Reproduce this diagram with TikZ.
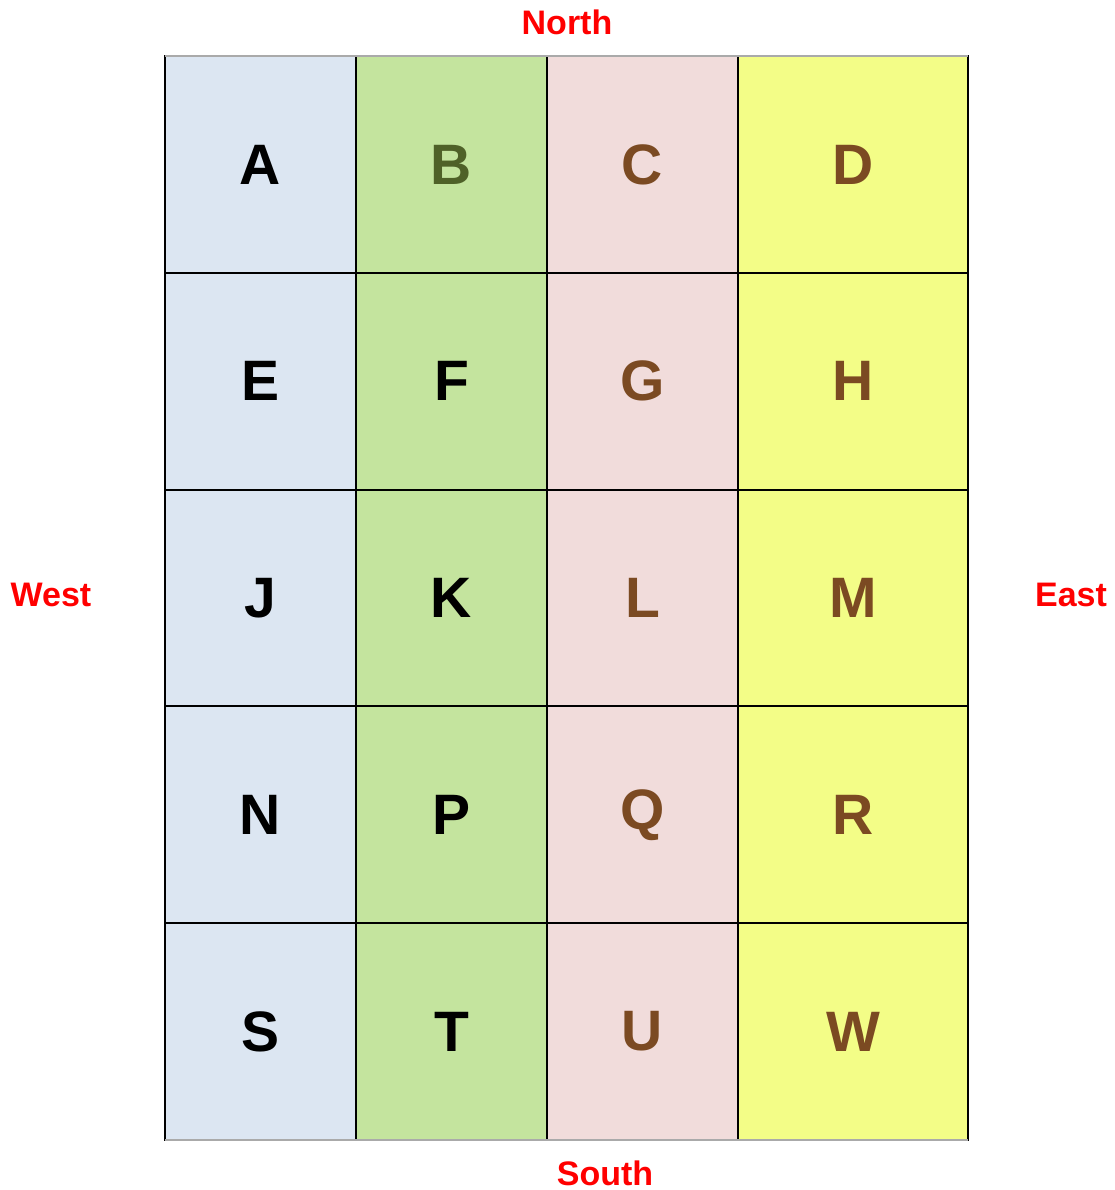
\documentclass[tikz,border=0pt]{standalone}
\usepackage{fontspec}
\setmainfont{Liberation Sans}
\usepackage{tikz}
\usetikzlibrary{positioning,calc}
\definecolor{ColBlue}{HTML}{DCE6F2}
\definecolor{ColGreen}{HTML}{C4E49E}
\definecolor{ColPink}{HTML}{F1DCDB}
\definecolor{ColYellow}{HTML}{F3FD87}
\definecolor{OliveTxt}{HTML}{4F6128}
\definecolor{BrownTxt}{HTML}{7B4A22}
\definecolor{EdgeGray}{HTML}{AAAAAA}

\begin{document}
\begin{tikzpicture}[
    x=1pt,y=-1pt,
    cell/.style={draw=black,line width=2pt,inner sep=0pt,outer sep=0pt,
      minimum width=191pt,minimum height=216.8pt,font=\fontsize{57}{60}\selectfont\bfseries},
    wide/.style={cell,minimum width=230pt},
    compass/.style={text=red,font=\fontsize{34}{36}\selectfont\bfseries,inner sep=0pt},
  ]
  \useasboundingbox (0,0) rectangle (1115,1190);
  % Cells, column by column
  \foreach \lab/\row/\tc in {A/1/black,E/2/black,J/3/black,N/4/black,S/5/black}
    \node[cell,fill=ColBlue,text=\tc] (\lab) at (260.5,{56+216.8*(\row-0.5)}) {\lab};
  \foreach \lab/\row/\tc in {B/1/OliveTxt,F/2/black,K/3/black,P/4/black,T/5/black}
    \node[cell,fill=ColGreen,text=\tc] (\lab) at (451.5,{56+216.8*(\row-0.5)}) {\lab};
  \foreach \lab/\row/\tc in {C/1/BrownTxt,G/2/BrownTxt,L/3/BrownTxt,Q/4/BrownTxt,U/5/BrownTxt}
    \node[cell,fill=ColPink,text=\tc] (\lab) at (642.5,{56+216.8*(\row-0.5)}) {\lab};
  \foreach \lab/\row/\tc in {D/1/BrownTxt,H/2/BrownTxt,M/3/BrownTxt,R/4/BrownTxt,W/5/BrownTxt}
    \node[wide,fill=ColYellow,text=\tc] (\lab) at (853,{56+216.8*(\row-0.5)}) {\lab};
  % Gray outer edges top and bottom
  \draw[EdgeGray,line width=2pt] (A.north west) -- (D.north east);
  \draw[EdgeGray,line width=2pt] (S.south west) -- (W.south east);
  % Compass labels
  \node[compass] (north) at (567,22) {North};
  \node[compass] (south) at (605,1173) {South};
  \node[compass] (west) at (51,595) {West};
  \node[compass] (east) at (1071,595) {East};
\end{tikzpicture}
\end{document}
